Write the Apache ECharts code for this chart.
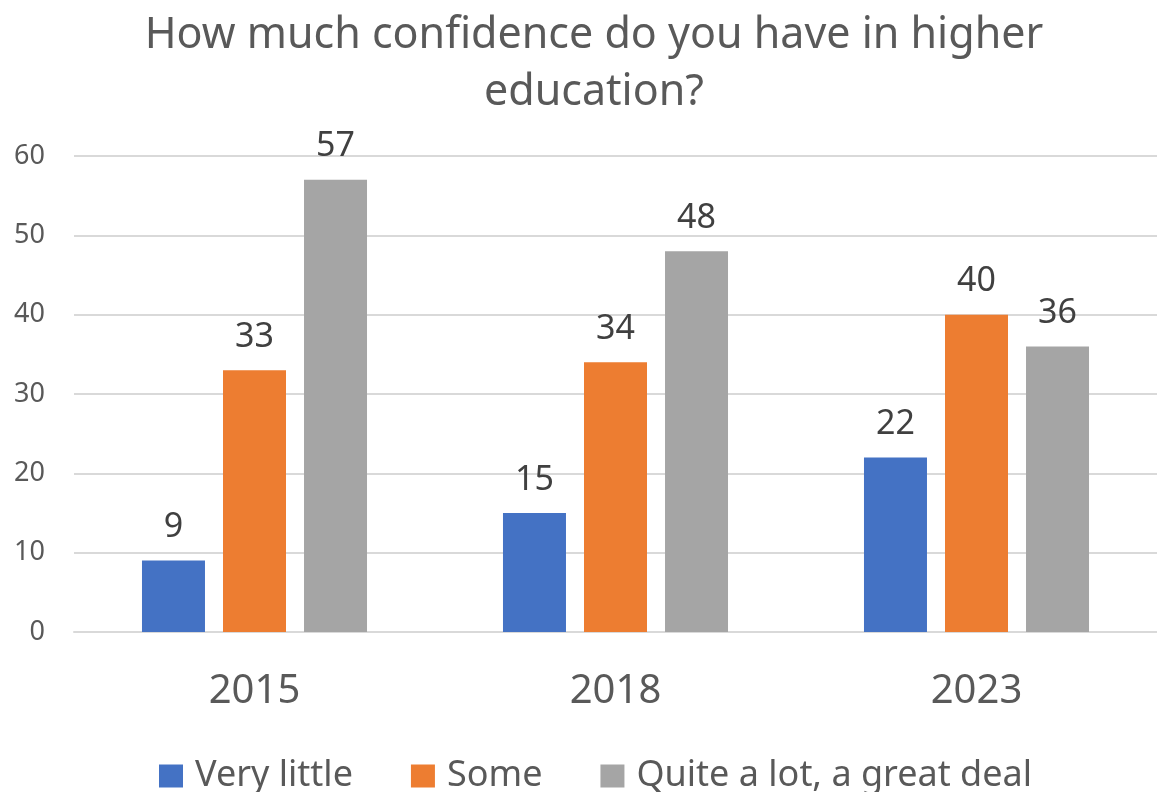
<!DOCTYPE html>
<html>
<head>
<meta charset="utf-8">
<script src="https://cdn.jsdelivr.net/npm/echarts@6/dist/echarts.min.js"></script>
<style>html,body{margin:0;padding:0;background:#fff;}#c{width:1157px;height:792px;}</style>
</head>
<body>
<div id="c"></div>
<script>
const categories = ['2015', '2018', '2023'];
const seriesNames = ['Very little', 'Some', 'Quite a lot, a great deal'];
const veryLittle = [9, 15, 22];
const some = [33, 34, 40];
const quiteALot = [57, 48, 36];
const yTicks = [0, 10, 20, 30, 40, 50, 60];
const colors = ['#4472C4', '#ED7D31', '#A5A5A5'];
const FONT = '"Noto Sans", "Open Sans", sans-serif';
const TXT = '#595959';

const chart = echarts.init(document.getElementById('c'));
const values = [veryLittle, some, quiteALot];
chart.setOption({
  animation: false,
  textStyle: { fontFamily: FONT },
  title: {
    text: 'How much confidence do you have in higher\neducation?',
    left: 589,
    top: 2,
    textAlign: 'center',
    textStyle: { fontFamily: FONT, fontSize: 43, fontWeight: 'normal', color: TXT, lineHeight: 57 }
  },
  legend: {
    top: 753,
    left: 154,
    itemWidth: 24,
    itemHeight: 23,
    itemGap: 58,
    icon: 'rect',
    textStyle: { fontFamily: FONT, fontSize: 36, color: TXT, padding: [0, 0, 0, 7] },
    data: seriesNames
  },
  grid: { left: 74, right: -5, top: 156, bottom: 160, containLabel: false },
  xAxis: {
    type: 'category',
    data: categories,
    axisTick: { show: false },
    axisLine: { show: true, lineStyle: { color: '#D9D9D9', width: 2 } },
    axisLabel: { fontFamily: FONT, fontSize: 40, color: TXT, margin: 40 }
  },
  yAxis: {
    type: 'value',
    min: yTicks[0],
    max: yTicks[yTicks.length - 1],
    interval: 10,
    axisLine: { show: false },
    axisTick: { show: false },
    splitLine: { lineStyle: { color: '#D9D9D9', width: 2 } },
    axisLabel: { fontFamily: FONT, fontSize: 27, color: TXT, margin: 29 }
  },
  series: seriesNames.map((n, i) => ({
    name: n,
    type: 'bar',
    data: values[i],
    barWidth: 63,
    barGap: '28.6%',
    itemStyle: { color: colors[i] },
    label: { show: true, position: 'top', distance: 16, fontFamily: FONT, fontSize: 34, color: '#404040' }
  }))
});
</script>
</body>
</html>
